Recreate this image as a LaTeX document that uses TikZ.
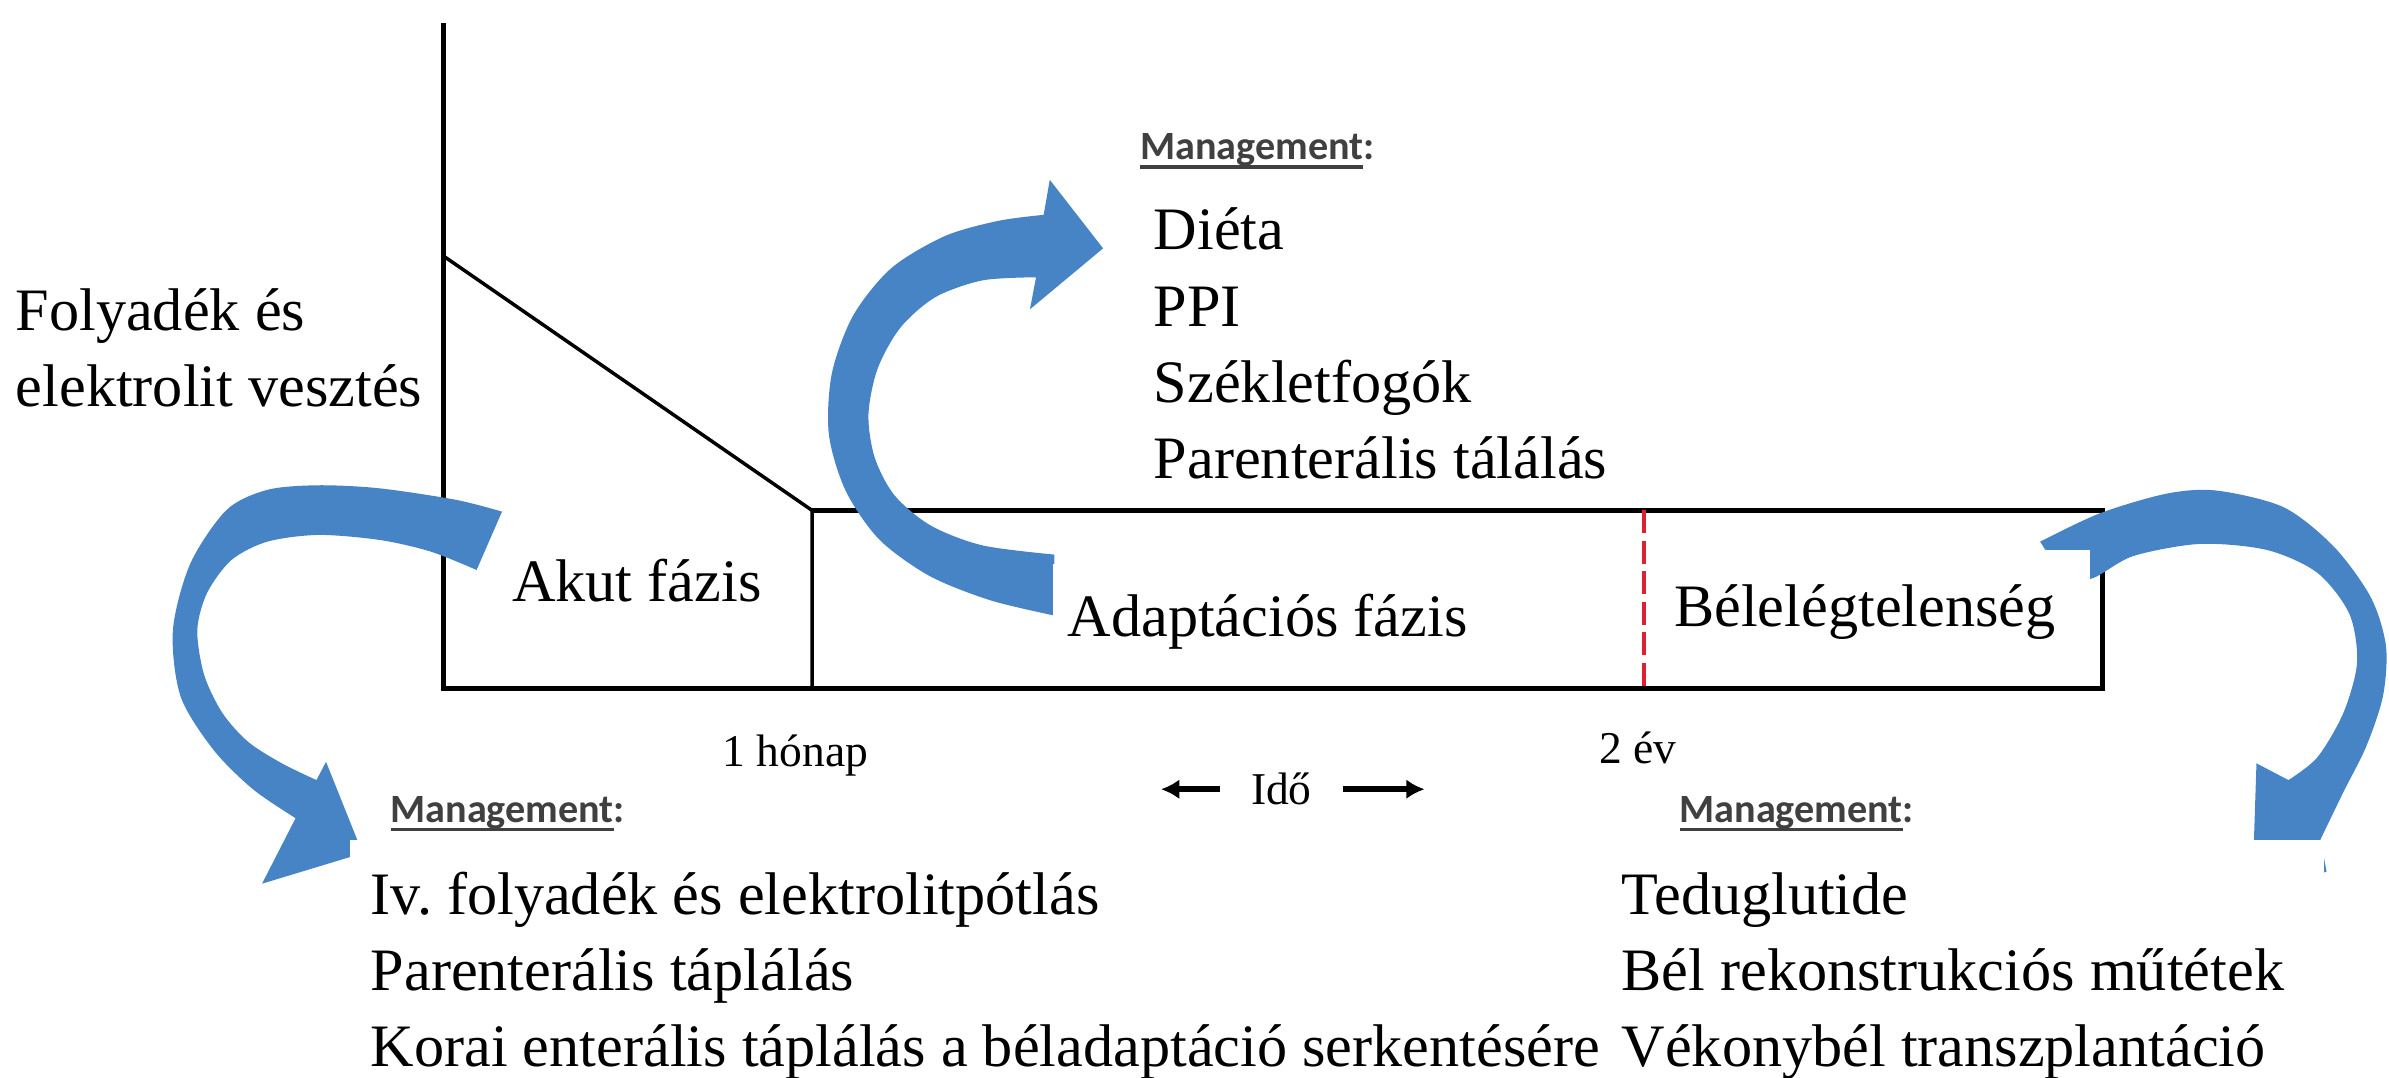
\documentclass[tikz,border=0pt]{standalone}
\usepackage{fontspec}
\setmainfont{Liberation Serif}
\newfontfamily\mgmtfont{Carlito}
\usetikzlibrary{arrows.meta,positioning}
\definecolor{pfeilblau}{RGB}{70,132,198}
\definecolor{grenzrot}{RGB}{222,32,48}
\newcommand{\unterstrichen}[1]{\setbox0=\hbox{#1}\rlap{\rule[-3.2pt]{\wd0}{1.2pt}}\box0}
\frenchspacing

\begin{document}
\begin{tikzpicture}[x=0.02cm,y=-0.02cm,
  achse/.style={line width=1.8pt},
  linie/.style={line width=1.3pt},
  pfeil/.style={fill=pfeilblau},
  text22/.style={font=\fontsize{22.5}{28.45}\selectfont, inner sep=0pt},
  klein/.style={font=\fontsize{17}{20}\selectfont, inner sep=0pt},
  eintrag/.style={text22, anchor=base west},
  mgmt/.style={font=\mgmtfont\bfseries\fontsize{15}{18}\selectfont, text=black!75, inner sep=0pt, anchor=base west},
  zeitpfeil/.style={line width=2.2pt, -{Latex[length=0.24cm,width=0.26cm]}}]
  \useasboundingbox (0,0) rectangle (1568,707.5);
  % die Achsen und Phasengrenzen
  \draw[achse] (291,15) -- (291,452) -- (1380,452) -- (1380,335) -- (533,335);
  \draw[linie] (291,168) -- (533,335) -- (533,452);
  \draw[grenzrot, line width=1.5pt, dash pattern=on 0.3cm off 0.1cm] (1079,335) -- (1079,452);
  % gekruemmte Pfeile
  \fill[pfeil] plot[smooth] coordinates {(329.5,335.8) (299,328) (249,320.5) (209,318.5) (175.5,321.5) (148.7,334.7) (125,369.7) (113.5,413.5) (118.5,457) (140,492) (166,518) (194,537)}
    -- (172,580) -- (238,560) -- (214,500)
    -- plot[smooth] coordinates {(207.7,512) (185,501) (163,487) (146,468) (134,443) (129.5,413.5) (136,389) (152,367.5) (175.5,355.5) (209,351.1) (249.2,354.4) (282.6,362) (312.8,374.1)} -- cycle;
  \fill[pfeil] plot[smooth] coordinates {(692,404) (650,394) (610,378) (577,354) (555,322) (544,285) (546,245) (560,207) (585,176) (620,155) (655,145) (685,141)}
    -- (689,118) -- (724,163) -- (676,203)
    -- plot[smooth] coordinates {(680,182) (645,184) (614,195) (591,215) (576,242) (570,272) (574,300) (587,325) (611,345) (645,358) (692,364)} -- cycle;
  \fill[pfeil] plot[smooth] coordinates {(1339,355.5) (1378,337) (1422,324) (1455,322) (1499,333) (1532,359) (1556,392) (1566,424) (1564,457) (1553,490) (1538,520) (1523,551)}
    -- (1527,572) -- (1478,592) -- (1481,501)
    -- plot[smooth] coordinates {(1502,512) (1521,497) (1538,468) (1547,435) (1542,403) (1521,376) (1488,361) (1444,357) (1400,365) (1372,380) (1352,376)} -- cycle;
  % weisse Textfelder
  \fill[white] (691,370) rectangle (975,445);
  \fill[white] (1083,361) rectangle (1372,425);
  \fill[white] (230,551) rectangle (1056,707.5);
  \fill[white] (1058,551) rectangle (1525,707.5);
  % Beschriftungen
  \node[text22, align=left, anchor=north west] (verlust) at (10,189) {Folyadék és\\elektrolit vesztés};
  \node[text22, anchor=base] (akut) at (418,395) {Akut fázis};
  \node[text22, anchor=base] (adapt) at (832,418) {Adaptációs fázis};
  \node[text22, anchor=base] (bel) at (1224,411) {Bélelégtelenség};
  \node[klein, anchor=base] (monat) at (522,503) {1 hónap};
  \node[klein, anchor=base] (jahre) at (1075,501) {2 év};
  % Zeitachse
  \node[klein, inner xsep=0.4cm] (ido) at (841,518) {Idő};
  \coordinate (zeitlinks) at (762,518);
  \coordinate (zeitrechts) at (935,518);
  \draw[zeitpfeil] (ido.west) -- (zeitlinks);
  \draw[zeitpfeil] (ido.east) -- (zeitrechts);
  % Management-Listen
  \node[mgmt] (mgmtoben) at (748,105) {\unterstrichen{Management}:};
  \node[mgmt] (mgmtlinks) at (256,540) {\unterstrichen{Management}:};
  \node[mgmt] (mgmtrechts) at (1102,540) {\unterstrichen{Management}:};
  \foreach \punkt [count=\i] in {Diéta, PPI, Székletfogók, Parenterális tálálás}
    \node[eintrag] (oben\i) at (757,114+50*\i) {\punkt};
  \foreach \punkt [count=\i] in {Iv. folyadék és elektrolitpótlás, Parenterális táplálás, Korai enterális táplálás a béladaptáció serkentésére}
    \node[eintrag] (links\i) at (243,550+50*\i) {\punkt};
  \foreach \punkt [count=\i] in {Teduglutide, Bél rekonstrukciós műtétek, Vékonybél transzplantáció}
    \node[eintrag] (rechts\i) at (1064,550+50*\i) {\punkt};
\end{tikzpicture}
\end{document}
